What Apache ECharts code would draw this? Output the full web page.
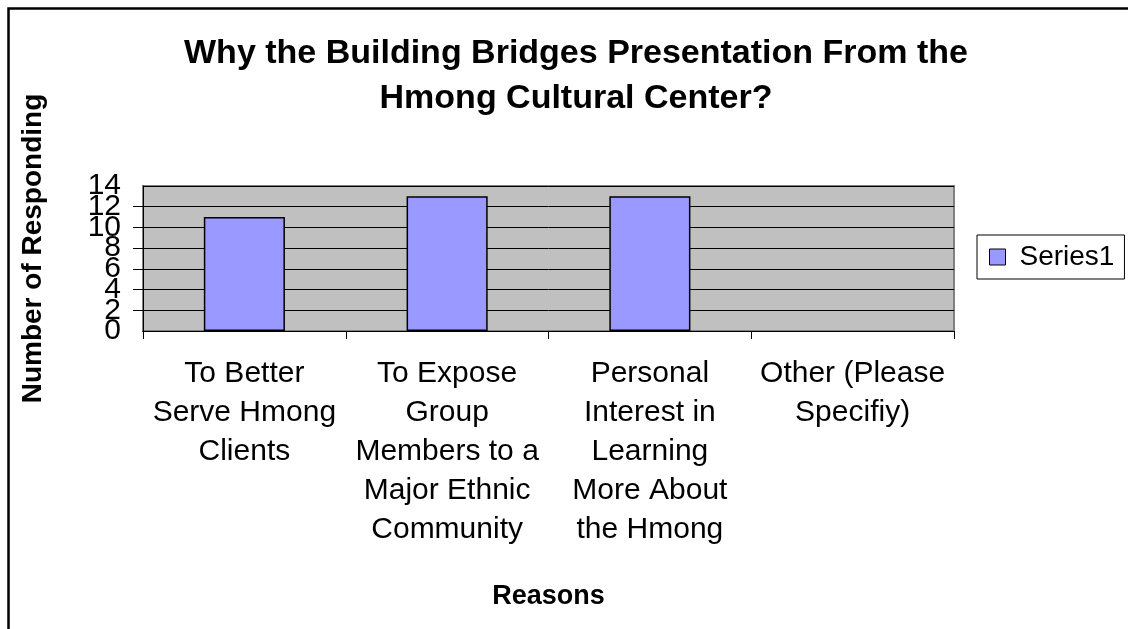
<!DOCTYPE html>
<html>
<head>
<meta charset="utf-8">
<script src="https://cdn.jsdelivr.net/npm/echarts@6/dist/echarts.min.js"></script>
<style>
  html, body { margin: 0; padding: 0; background: #fff; }
  #main { width: 1128px; height: 629px; }
</style>
</head>
<body>
<div id="main"></div>
<script>
// chart data
var categories = [
  'To Better\nServe Hmong\nClients',
  'To Expose\nGroup\nMembers to a\nMajor Ethnic\nCommunity',
  'Personal\nInterest in\nLearning\nMore About\nthe Hmong',
  'Other (Please\nSpecifiy)'
];
var series1 = [11, 13, 13, 0];
var yTicks = [0, 2, 4, 6, 8, 10, 12, 14];

var myChart = echarts.init(document.getElementById('main'));
var font = 'Liberation Sans, Arial, sans-serif';

// a zero value draws no outline in the original
var barData = series1.map(function (v) {
  return v === 0 ? { value: v, itemStyle: { borderWidth: 0 } } : v;
});

var yLabel = { fontSize: 30, color: '#000', margin: 22, fontFamily: font };

var option = {
  backgroundColor: '#ffffff',
  textStyle: { fontFamily: font },
  title: {
    text: 'Why the Building Bridges Presentation From the\nHmong Cultural Center?',
    left: 571,
    top: 26,
    textAlign: 'center',
    textStyle: { fontSize: 34, fontWeight: 'bold', color: '#000', lineHeight: 45, fontFamily: font }
  },
  legend: {
    data: ['Series1'],
    left: 977,
    top: 235,
    orient: 'vertical',
    icon: 'rect',
    itemWidth: 16,
    itemHeight: 16,
    padding: [8, 10, 8, 12],
    borderColor: '#000',
    borderWidth: 1,
    backgroundColor: '#fff',
    itemStyle: { borderColor: '#000', borderWidth: 1 },
    textStyle: { fontSize: 28, color: '#000', padding: [0, 0, 0, 9], fontFamily: font }
  },
  grid: {
    left: 143, top: 186, width: 811, height: 145,
    show: true,
    backgroundColor: '#C0C0C0',
    borderColor: '#808080',
    borderWidth: 2
  },
  xAxis: {
    type: 'category',
    data: categories,
    name: 'Reasons',
    nameLocation: 'middle',
    nameGap: 252,
    nameTextStyle: { fontSize: 27, fontWeight: 'bold', color: '#000', fontFamily: font },
    axisLine: { lineStyle: { color: '#000', width: 1 } },
    axisTick: { show: true, length: 8, lineStyle: { color: '#000' } },
    axisLabel: { interval: 0, fontSize: 30, lineHeight: 39, color: '#000', margin: 23, align: 'center', fontFamily: font }
  },
  yAxis: [{
    type: 'value',
    min: yTicks[0],
    max: yTicks[yTicks.length - 1],
    interval: 2,
    name: 'Number of Responding',
    nameLocation: 'middle',
    nameGap: 96,
    nameRotate: 90,
    nameTextStyle: { fontSize: 28, fontWeight: 'bold', color: '#000', padding: [0, 0, 0, 20], fontFamily: font },
    axisLine: { show: true, lineStyle: { color: '#000' } },
    axisTick: { show: true, inside: false, length: 10, lineStyle: { color: '#000' } },
    splitLine: { show: true, lineStyle: { color: '#000', width: 1 } },
    // inner labels here; the end labels come from the second axis so none get dropped for overlapping
    axisLabel: Object.assign({ showMinLabel: false, showMaxLabel: false }, yLabel)
  }, {
    type: 'value',
    position: 'left',
    min: yTicks[0],
    max: yTicks[yTicks.length - 1],
    interval: 2,
    axisLine: { show: false },
    axisTick: { show: false },
    splitLine: { show: false },
    axisLabel: Object.assign({
      showMinLabel: true, showMaxLabel: true,
      formatter: function (v, i) { return (i === 0 || i === yTicks.length - 1) ? String(v) : ''; }
    }, yLabel)
  }],
  series: [{
    name: 'Series1',
    type: 'bar',
    data: barData,
    barWidth: '40%',
    itemStyle: { color: '#9999FF', borderColor: '#000', borderWidth: 1.5 }
  }],
  graphic: [{
    type: 'rect',
    left: 6, top: 6,
    shape: { width: 1200, height: 700 },
    style: { fill: 'none', stroke: '#000', lineWidth: 2.5 },
    silent: true
  }]
};

myChart.setOption(option);
</script>
</body>
</html>
